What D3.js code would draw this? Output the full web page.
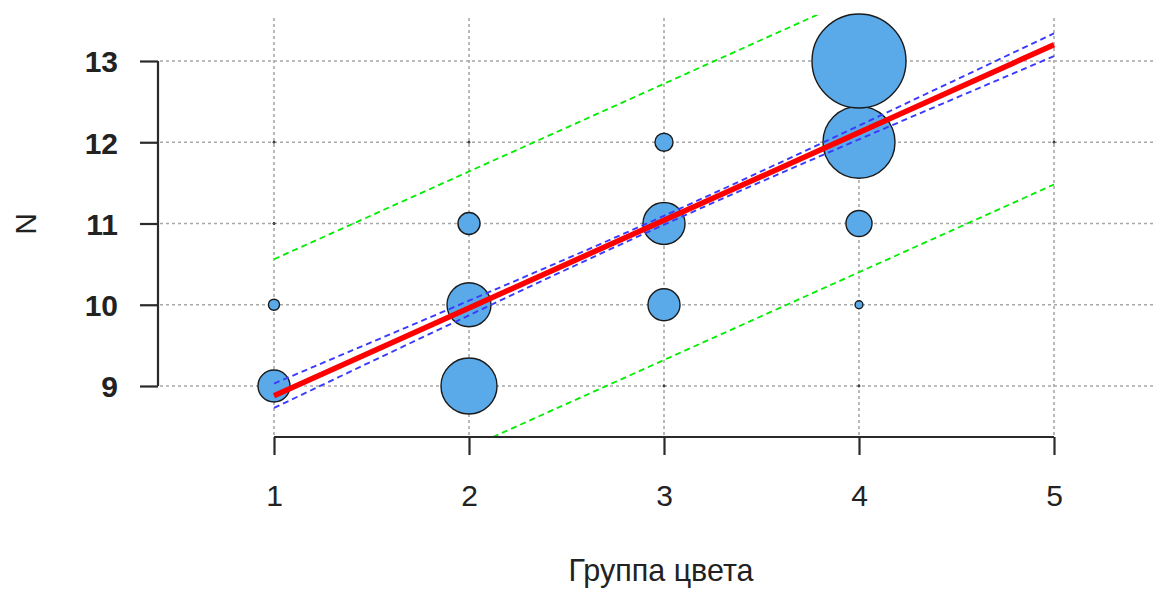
<!DOCTYPE html>
<html lang="ru">
<head>
<meta charset="utf-8">
<title>Группа цвета</title>
<script src="https://d3js.org/d3.v7.min.js"></script>
<style>
  body { margin: 0; background: #fff; }
  text { font-family: "Liberation Sans", Arial, sans-serif; fill: #222; }
</style>
</head>
<body>
<div id="chart"></div>
<script>
// Data: bubble positions and their weights
const groups = [1, 1, 1, 1, 2, 2, 2, 2, 3, 3, 3, 3, 4, 4, 4, 4, 4, 5];
const nValues = [9, 10, 11, 12, 9, 10, 11, 12, 9, 10, 11, 12, 9, 10, 11, 12, 13, 12];
const counts = [11.6, 1.4, 0, 0, 35.5, 21.9, 5.5, 0, 0, 11.6, 20, 3.7, 0, 0.7, 7.7, 58.7, 100, 0];

// Regression fit, confidence and prediction bands
const fitX = [1, 2, 3, 4, 5];
const fitY = [8.88, 9.96, 11.04, 12.12, 13.20];
const confUpper = [9.03, 10.05, 11.095, 12.205, 13.34];
const confLower = [8.73, 9.87, 10.985, 12.035, 13.06];
const predUpper = [10.56, 11.64, 12.72, 13.80, 14.88];
const predLower = [7.16, 8.24, 9.32, 10.40, 11.48];

const xTicks = [1, 2, 3, 4, 5];
const yTicks = [9, 10, 11, 12, 13];

const W = 1155, H = 590;
const plot = { left: 158, right: 1155, top: 15, bottom: 437 };

const svg = d3.select("#chart").append("svg")
  .attr("width", W).attr("height", H);

const x = d3.scaleLinear().domain([1, 5]).range([274, 1054]);
const y = d3.scaleLinear().domain([9, 13]).range([386, 61]);
const r = d3.scaleSqrt().domain([0, 100]).range([0, 47]);

svg.append("clipPath").attr("id", "clip")
  .append("rect")
  .attr("x", plot.left).attr("y", plot.top)
  .attr("width", plot.right - plot.left).attr("height", plot.bottom - plot.top);

// Grid
const grid = svg.append("g")
  .attr("stroke", "#a8a8a8").attr("stroke-width", 1.6).attr("stroke-dasharray", "3,3");
grid.selectAll(".vg").data(xTicks).enter().append("line")
  .attr("x1", d => x(d)).attr("x2", d => x(d))
  .attr("y1", plot.top + 3).attr("y2", plot.bottom);
grid.selectAll(".hg").data(yTicks).enter().append("line")
  .attr("x1", plot.left + 2).attr("x2", plot.right)
  .attr("y1", d => y(d)).attr("y2", d => y(d));

// Bubbles
const bubbles = groups.map((g, i) => ({ g: g, n: nValues[i], c: counts[i] }));
svg.append("g").selectAll("circle")
  .data(bubbles).enter().append("circle")
  .attr("cx", d => x(d.g)).attr("cy", d => y(d.n))
  .attr("r", d => Math.max(r(d.c), 1))
  .attr("fill", "#5aaaea")
  .attr("stroke", "#1a1a1a")
  .attr("stroke-width", d => d.c > 0 ? 1.4 : 1);

// Lines
const lineOf = vals => d3.line()
  .x((d, i) => x(fitX[i]))
  .y(d => y(d))
  .curve(d3.curveNatural)(vals);

const lines = svg.append("g").attr("clip-path", "url(#clip)").attr("fill", "none");
[predUpper, predLower].forEach(v => {
  lines.append("path").attr("d", lineOf(v))
    .attr("stroke", "#00ee00").attr("stroke-width", 1.8).attr("stroke-dasharray", "6,4");
});
[confUpper, confLower].forEach(v => {
  lines.append("path").attr("d", lineOf(v))
    .attr("stroke", "#3a3aff").attr("stroke-width", 1.9).attr("stroke-dasharray", "6,4");
});
lines.append("path").attr("d", lineOf(fitY))
  .attr("stroke", "#ff0000").attr("stroke-width", 5.5);

// Axes
const xAxis = svg.append("g").attr("transform", `translate(0,${plot.bottom})`)
  .call(d3.axisBottom(x).tickValues(xTicks).tickSize(18).tickFormat(d3.format("d")));
xAxis.select(".domain").attr("d", `M${x(1)},0H${x(5)}`);
xAxis.selectAll("line, .domain").attr("stroke", "#2a2a2a").attr("stroke-width", 2.2);
xAxis.selectAll("text")
  .attr("dy", null).attr("y", 69)
  .style("font-size", "30px").style("font-family", "Liberation Sans, Arial, sans-serif")
  .attr("fill", "#222");

const yAxis = svg.append("g").attr("transform", `translate(${plot.left},0)`)
  .call(d3.axisLeft(y).tickValues(yTicks).tickSize(18).tickFormat(d3.format("d")));
yAxis.select(".domain").attr("d", `M0,${y(9)}V${y(13)}`);
yAxis.selectAll("line, .domain").attr("stroke", "#2a2a2a").attr("stroke-width", 2.2);
yAxis.selectAll("text")
  .attr("x", -40).attr("dy", "0.36em")
  .style("font-size", "30px").style("font-weight", "bold")
  .style("font-family", "Liberation Sans, Arial, sans-serif")
  .attr("fill", "#222");

// Axis titles
svg.append("text")
  .attr("x", 661).attr("y", 581)
  .attr("text-anchor", "middle")
  .style("font-size", "30.5px")
  .text("Группа цвета");

svg.append("text")
  .attr("transform", "translate(36,224) rotate(-90)")
  .attr("text-anchor", "middle")
  .style("font-size", "30px")
  .text("N");
</script>
</body>
</html>
